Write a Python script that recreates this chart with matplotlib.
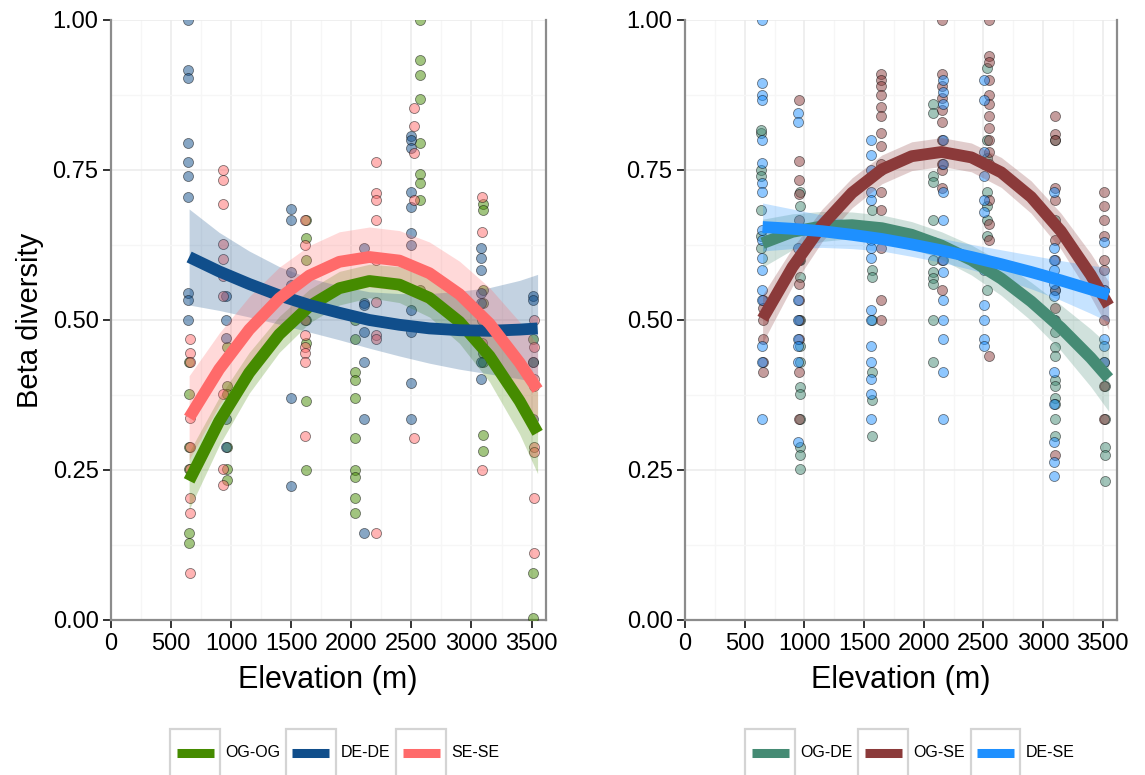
import matplotlib
matplotlib.use("Agg")
import matplotlib.pyplot as plt
from matplotlib.legend_handler import HandlerBase
from matplotlib.patches import Rectangle
from matplotlib.lines import Line2D

plt.rcParams['font.family'] = ['Liberation Sans', 'DejaVu Sans']

# ---------------- data: left panel (within-habitat) ----------------
left_labels = ["OG-OG", "DE-DE", "SE-SE"]
left_colors = ["#458B00", "#104E8B", "#FF6A6A"]

ogog_pts = {
    650: [0.43, 0.377, 0.288, 0.252, 0.145, 0.128],
    965: [0.455, 0.39, 0.377, 0.288, 0.252, 0.233],
    1625: [0.637, 0.60, 0.667, 0.462, 0.365, 0.25, 0.50],
    2030: [0.50, 0.468, 0.413, 0.40, 0.37, 0.303, 0.25, 0.238, 0.203, 0.178],
    2570: [1.0, 0.933, 0.908, 0.868, 0.795, 0.743, 0.728, 0.70, 0.55],
    3095: [0.693, 0.683, 0.55, 0.528, 0.445, 0.43, 0.308, 0.282],
    3515: [0.468, 0.43, 0.078, 0.003],
}
dede_pts = {
    640: [1.0, 0.917, 0.903, 0.795, 0.763, 0.74, 0.705, 0.545, 0.533, 0.50],
    960: [0.54, 0.50, 0.47, 0.335, 0.288],
    1500: [0.685, 0.667, 0.58, 0.558, 0.37, 0.223],
    2105: [0.62, 0.528, 0.525, 0.48, 0.43, 0.335, 0.145],
    2500: [0.806, 0.80, 0.786, 0.714, 0.689, 0.645, 0.625, 0.517, 0.48, 0.395, 0.335],
    3080: [0.62, 0.603, 0.583, 0.545, 0.528, 0.43, 0.402],
    3510: [0.54, 0.533, 0.43, 0.335],
}
sese_pts = {
    660: [0.468, 0.445, 0.43, 0.337, 0.288, 0.252, 0.203, 0.178, 0.078],
    935: [0.75, 0.733, 0.693, 0.627, 0.602, 0.573, 0.54, 0.377, 0.252, 0.225],
    1615: [0.667, 0.625, 0.50, 0.475, 0.455, 0.445, 0.43, 0.307],
    2205: [0.764, 0.712, 0.70, 0.667, 0.60, 0.53, 0.475, 0.468, 0.145],
    2520: [0.853, 0.823, 0.778, 0.70, 0.303],
    3085: [0.705, 0.647, 0.462, 0.25, 0.50],
    3520: [0.50, 0.455, 0.402, 0.39, 0.288, 0.28, 0.203, 0.112],
}

# fitted curves and half-width of confidence band
fit_elev = [650, 900, 1150, 1400, 1650, 1900, 2150, 2400, 2650, 2900, 3150, 3400, 3550]
ogog_fit = [0.232, 0.331, 0.412, 0.476, 0.523, 0.553, 0.565, 0.559, 0.537, 0.497, 0.440, 0.365, 0.312]
ogog_se = [0.048, 0.040, 0.034, 0.030, 0.028, 0.028, 0.028, 0.030, 0.032, 0.036, 0.043, 0.055, 0.068]
dede_fit = [0.605, 0.581, 0.560, 0.541, 0.525, 0.512, 0.500, 0.492, 0.486, 0.483, 0.482, 0.484, 0.486]
dede_se = [0.080, 0.065, 0.055, 0.048, 0.045, 0.045, 0.047, 0.052, 0.058, 0.065, 0.072, 0.082, 0.090]
sese_fit = [0.337, 0.418, 0.484, 0.536, 0.574, 0.597, 0.605, 0.599, 0.578, 0.543, 0.494, 0.429, 0.384]
sese_se = [0.070, 0.060, 0.055, 0.052, 0.050, 0.050, 0.050, 0.050, 0.052, 0.055, 0.060, 0.068, 0.075]

# ---------------- data: right panel (between-habitat) ----------------
right_labels = ["OG-DE", "OG-SE", "DE-SE"]
right_colors = ["#458B74", "#8B3A3A", "#1E90FF"]

ogde_pts = {
    640: [0.811, 0.816, 0.75, 0.74, 0.683, 0.64, 0.62],
    965: [0.714, 0.69, 0.60, 0.572, 0.50, 0.456, 0.43, 0.388, 0.377, 0.335, 0.289, 0.275, 0.251],
    1570: [0.74, 0.683, 0.65, 0.583, 0.572, 0.50, 0.414, 0.367, 0.307],
    2080: [0.86, 0.845, 0.74, 0.73, 0.667, 0.63, 0.62, 0.60, 0.58, 0.57, 0.56, 0.50, 0.43],
    2530: [0.92, 0.80, 0.77, 0.714, 0.69, 0.667, 0.64, 0.55],
    3100: [0.80, 0.667, 0.55, 0.50, 0.48, 0.455, 0.44, 0.40, 0.39, 0.37, 0.36, 0.335, 0.307],
    3520: [0.39, 0.335, 0.289, 0.275, 0.232],
}
ogse_pts = {
    650: [0.533, 0.52, 0.50, 0.469, 0.43, 0.414],
    955: [0.867, 0.765, 0.733, 0.71, 0.667, 0.65, 0.60, 0.56, 0.533, 0.50, 0.469, 0.414, 0.335],
    1640: [0.91, 0.90, 0.89, 0.875, 0.855, 0.84, 0.811, 0.79, 0.76, 0.75, 0.714, 0.683, 0.65, 0.62, 0.533, 0.50],
    2150: [1.0, 0.91, 0.89, 0.87, 0.85, 0.83, 0.80, 0.78, 0.76, 0.75, 0.72, 0.60, 0.55],
    2545: [1.0, 0.94, 0.93, 0.90, 0.875, 0.86, 0.84, 0.82, 0.80, 0.78, 0.76, 0.70, 0.66, 0.633, 0.44],
    3100: [0.84, 0.81, 0.80, 0.72, 0.70, 0.66, 0.633, 0.60, 0.55, 0.52, 0.275],
    3510: [0.714, 0.69, 0.667, 0.64, 0.60, 0.583, 0.55, 0.50, 0.43, 0.39, 0.335],
}
dese_pts = {
    645: [1.0, 0.895, 0.875, 0.867, 0.80, 0.761, 0.728, 0.714, 0.65, 0.633, 0.603, 0.583, 0.55, 0.533, 0.456, 0.43, 0.335],
    945: [0.845, 0.83, 0.65, 0.62, 0.60, 0.533, 0.50, 0.469, 0.456, 0.43, 0.296],
    1555: [0.80, 0.775, 0.75, 0.714, 0.70, 0.65, 0.633, 0.62, 0.603, 0.516, 0.50, 0.456, 0.43, 0.402, 0.377, 0.335],
    2160: [0.90, 0.88, 0.86, 0.80, 0.76, 0.714, 0.667, 0.62, 0.60, 0.58, 0.533, 0.50, 0.469, 0.414, 0.335],
    2505: [0.90, 0.867, 0.78, 0.76, 0.74, 0.70, 0.68, 0.60, 0.583, 0.525, 0.50, 0.469, 0.456],
    3090: [0.714, 0.62, 0.60, 0.583, 0.56, 0.54, 0.50, 0.414, 0.36, 0.296, 0.264, 0.24],
    3515: [0.63, 0.55, 0.469, 0.456, 0.43],
}

ogde_fit = [0.628, 0.647, 0.656, 0.658, 0.653, 0.642, 0.624, 0.600, 0.569, 0.531, 0.487, 0.437, 0.403]
ogde_se = [0.040, 0.030, 0.025, 0.022, 0.022, 0.022, 0.023, 0.025, 0.028, 0.032, 0.038, 0.048, 0.055]
ogse_fit = [0.502, 0.588, 0.658, 0.712, 0.751, 0.773, 0.780, 0.771, 0.746, 0.705, 0.648, 0.575, 0.524]
ogse_se = [0.040, 0.032, 0.027, 0.025, 0.024, 0.024, 0.024, 0.024, 0.025, 0.027, 0.030, 0.036, 0.040]
dese_fit = [0.655, 0.652, 0.648, 0.642, 0.635, 0.626, 0.616, 0.605, 0.593, 0.580, 0.566, 0.551, 0.542]
dese_se = [0.040, 0.033, 0.027, 0.023, 0.020, 0.020, 0.020, 0.021, 0.024, 0.028, 0.033, 0.040, 0.045]

x_ticks = [0, 500, 1000, 1500, 2000, 2500, 3000, 3500]
y_ticks = [0.00, 0.25, 0.50, 0.75, 1.00]
y_ticklabels = ["0.00", "0.25", "0.50", "0.75", "1.00"]


class BoxedLine(HandlerBase):
    def create_artists(self, legend, orig_handle, xdescent, ydescent,
                       width, height, fontsize, trans):
        rect = Rectangle((-xdescent, -ydescent), width, height,
                         facecolor="white", edgecolor="#D4D4D4", lw=1.6,
                         transform=trans)
        yc = -ydescent + height / 2
        ln = Line2D([-xdescent + 0.125 * width, -xdescent + 0.875 * width], [yc, yc],
                    color=orig_handle.get_color(), lw=6.5, solid_capstyle="butt",
                    transform=trans)
        return [rect, ln]


def draw_panel(ax, pts_list, fits, ses, colors, labels, legend_x):
    ax.set_xlim(0, 3620)
    ax.set_ylim(0, 1)
    ax.set_xticks(x_ticks)
    ax.set_xticks(range(250, 3620, 500), minor=True)
    ax.set_yticks(y_ticks)
    ax.set_yticklabels(y_ticklabels)
    ax.set_yticks([0.125, 0.375, 0.625, 0.875], minor=True)
    ax.grid(which="major", color="#EBEBEB", lw=1.1)
    ax.grid(which="minor", color="#F6F6F6", lw=1.0)
    ax.set_axisbelow(True)
    for side in ["left", "bottom", "right"]:
        ax.spines[side].set_color("#8C8C8C")
        ax.spines[side].set_linewidth(1.6)
    ax.spines["top"].set_visible(False)
    ax.tick_params(axis="both", which="major", length=6, width=1.4, color="#333333",
                   labelsize=17, labelcolor="black", pad=3)
    ax.tick_params(axis="both", which="minor", length=0)

    for pts, col in zip(pts_list, colors):
        xs, ys = [], []
        for e, vals in pts.items():
            xs += [e] * len(vals)
            ys += vals
        ax.scatter(xs, ys, s=52, facecolor=col, alpha=0.5, edgecolor="black",
                   linewidth=0.6, zorder=3, clip_on=True)

    handles = []
    for fit, se, col, lab in zip(fits, ses, colors, labels):
        lo = [f - s for f, s in zip(fit, se)]
        hi = [f + s for f, s in zip(fit, se)]
        ax.fill_between(fit_elev, lo, hi, color=col, alpha=0.25, lw=0, zorder=4)
        h, = ax.plot(fit_elev, fit, color=col, lw=8.5, solid_capstyle="butt",
                     solid_joinstyle="round", zorder=5, label=lab)
        handles.append(h)

    fig.legend(handles, labels, loc="center", bbox_to_anchor=(legend_x, 1 - 753 / 775),
               ncol=3, frameon=False, handler_map={Line2D: BoxedLine()},
               handlelength=3.1, handleheight=4.2, fontsize=11.5,
               handletextpad=0.35, columnspacing=0.35, borderpad=0)


fig = plt.figure(figsize=(11.45, 7.75), dpi=100)
axL = fig.add_axes([111 / 1145, 155 / 775, 435 / 1145, 600 / 775])
axR = fig.add_axes([685 / 1145, 155 / 775, 432 / 1145, 600 / 775])

draw_panel(axL, [ogog_pts, dede_pts, sese_pts], [ogog_fit, dede_fit, sese_fit],
           [ogog_se, dede_se, sese_se], left_colors, left_labels, 335 / 1145)
draw_panel(axR, [ogde_pts, ogse_pts, dese_pts], [ogde_fit, ogse_fit, dese_fit],
           [ogde_se, ogse_se, dese_se], right_colors, right_labels, 910 / 1145)

fig.text(30 / 1145, 1 - 320 / 775, "Beta diversity", rotation=90, ha="center",
         va="center", fontsize=21)
fig.text(328 / 1145, 1 - 680 / 775, "Elevation (m)", ha="center", va="center", fontsize=22)
fig.text(901 / 1145, 1 - 680 / 775, "Elevation (m)", ha="center", va="center", fontsize=22)

fig.savefig("out.png", dpi=100)
